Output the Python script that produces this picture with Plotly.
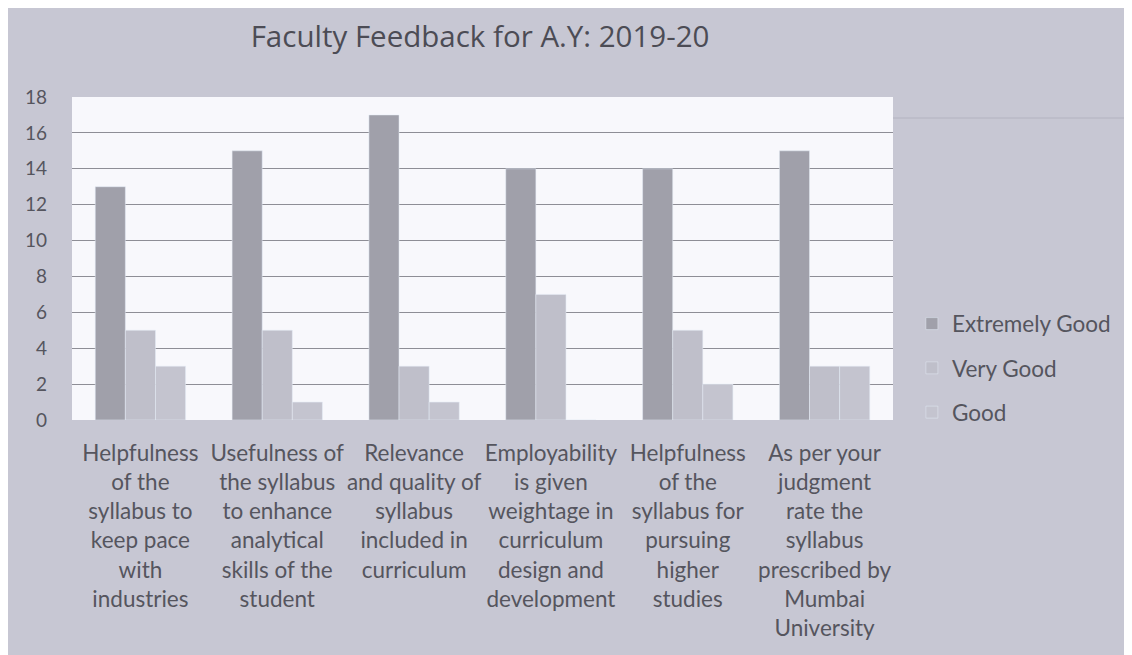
import plotly.graph_objects as go

categories = [
    "Helpfulness<br>of the<br>syllabus to<br>keep pace<br>with<br>industries",
    "Usefulness of<br>the syllabus<br>to enhance<br>analytical<br>skills of the<br>student",
    "Relevance<br>and quality of<br>syllabus<br>included in<br>curriculum",
    "Employability<br>is given<br>weightage in<br>curriculum<br>design and<br>development",
    "Helpfulness<br>of the<br>syllabus for<br>pursuing<br>higher<br>studies",
    "As per your<br>judgment<br>rate the<br>syllabus<br>prescribed by<br>Mumbai<br>University",
]
extremely_good = [13, 15, 17, 14, 14, 15]
very_good = [5, 5, 3, 7, 5, 3]
good = [3, 1, 1, 0, 2, 3]

bg = "#c7c7d3"
txt = "#55555e"

fig = go.Figure()
fig.add_trace(go.Bar(name="Extremely Good", x=categories, y=extremely_good, marker_color="#a0a0aa", legendgroup="a"))
fig.add_trace(go.Bar(name="Very Good", x=categories, y=very_good, marker_color="#bfbfca", legendgroup="b"))
fig.add_trace(go.Bar(name="Good", x=categories, y=good, marker_color="#c4c4cf", legendgroup="c"))

fig.update_layout(
    width=1132, height=655,
    paper_bgcolor=bg, plot_bgcolor="#f8f8fc",
    font=dict(family="Lato", color=txt, size=20),
    title=dict(text="Faculty Feedback for A.Y: 2019-20", x=0.417, xanchor="center", y=0.956, yanchor="middle",
               font=dict(family="Open Sans", size=29.5, color="#4c4c55")),
    barmode="group", bargap=0.34, bargroupgap=0,
    margin=dict(l=64, r=247, t=89, b=243),
    xaxis=dict(showgrid=False, tickfont=dict(size=22.5, color=txt), ticks="", showline=False,
               ticklabelstandoff=17, tickangle=0),
    yaxis=dict(range=[0, 18], dtick=2, showgrid=True, gridcolor="#8e8e96", gridwidth=1,
               zeroline=False, tickfont=dict(size=19, color=txt), ticklabelstandoff=24),
    legend=dict(x=1.023, y=0.161, xanchor="left", yanchor="middle", bgcolor="rgba(0,0,0,0)",
                font=dict(size=22.5, color=txt), tracegroupgap=12),
    shapes=[
        dict(type="line", xref="paper", yref="paper", x0=1.0, x1=1.35, y0=0.935, y1=0.935,
             line=dict(color="#b4b4c0", width=1)),
    ],
)

fig.write_html("out.html")
